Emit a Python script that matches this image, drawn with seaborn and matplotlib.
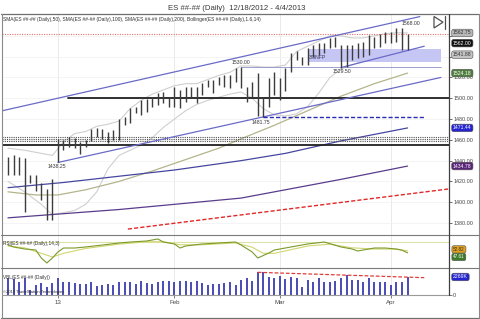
import matplotlib
matplotlib.use("Agg")
import matplotlib.pyplot as plt
import matplotlib.transforms as mtransforms
from matplotlib.lines import Line2D
from matplotlib.patches import Rectangle, Polygon
import numpy as np
import pandas as pd
import seaborn as sns

sns.set_style("white")
plt.rcParams['font.family'] = ['Liberation Sans', 'DejaVu Sans']

# ---------------- data ----------------
highs = [1443.5, 1445.5, 1443.5, 1442.5, 1426.0, 1426.0, 1418.5, 1412.5, 1422.5,
         1461.0, 1460.0, 1462.5, 1461.75, 1458.0, 1460.0, 1470.5, 1471.5, 1470.5, 1467.5, 1469.5,
         1480.0, 1482.0, 1490.5, 1491.5, 1498.25, 1499.25, 1501.25, 1505.0, 1506.0, 1501.25,
         1510.75, 1508.0, 1510.75, 1510.75, 1510.75, 1514.5, 1517.5, 1517.5, 1520.5, 1522.25,
         1522.25, 1529.0, 1530.0, 1510.75, 1515.5, 1524.25, 1501.0, 1519.5, 1525.25,
         1519.5, 1529.0, 1543.5, 1545.5, 1539.5, 1548.25, 1551.25, 1553.0, 1553.0, 1558.0,
         1558.75, 1551.25, 1551.25, 1551.25, 1553.0, 1554.0, 1560.75, 1558.75, 1561.75, 1563.75,
         1563.75, 1567.5, 1568.0, 1562.0]
lows = [1426.0, 1426.0, 1426.0, 1390.5, 1418.5, 1411.0, 1402.0, 1383.0, 1383.0,
        1438.25, 1450.0, 1453.0, 1452.0, 1446.25, 1453.0, 1459.0, 1462.5, 1461.0, 1457.0, 1460.0,
        1460.0, 1474.0, 1476.0, 1485.75, 1483.75, 1486.75, 1491.5, 1493.5, 1495.5, 1491.5,
        1491.5, 1490.5, 1496.25, 1500.25, 1495.5, 1503.0, 1510.75, 1505.0, 1512.75, 1510.75,
        1509.75, 1515.5, 1509.75, 1496.25, 1501.25, 1482.75, 1481.75, 1491.5, 1503.0,
        1498.25, 1507.0, 1525.25, 1536.75, 1532.0, 1532.0, 1539.5, 1541.5, 1543.5, 1548.25,
        1549.25, 1529.5, 1530.5, 1536.75, 1538.75, 1539.5, 1541.5, 1548.25, 1549.25, 1553.0,
        1553.0, 1554.0, 1546.25, 1546.25]
volumes_k = [2184, 2016, 1596, 2100, 630, 1260, 1470, 1050, 1470, 2100, 1596, 1596, 1470, 1344,
             1344, 1680, 1176, 1260, 1344, 1260, 1680, 1596, 1596, 1344, 1764, 1470, 1344, 1596,
             1764, 1764, 1680, 1764, 1764, 1680, 1764, 1470, 1260, 1344, 1344, 1470, 1596, 1260,
             1890, 2100, 1764, 2856, 2856, 2310, 2184, 2436, 2016, 2310, 2100, 1050, 1890, 1680,
             2100, 1596, 1596, 1764, 2100, 2520, 1890, 1890, 1596, 2100, 1596, 1596, 1596, 1260,
             1596, 1700, 2269]

sma50_idx = [0, 5, 9, 14, 20, 26, 32, 38, 42, 48, 54, 60, 66, 72]
sma50_val = [1410, 1407, 1407, 1412, 1420, 1430, 1441, 1452, 1461, 1474, 1488, 1502, 1514, 1524.18]
sma100_idx = [0, 10, 20, 30, 42, 50, 60, 72]
sma100_val = [1414, 1419, 1425, 1431, 1440, 1447, 1459, 1471.44]
sma200_idx = [0, 20, 42, 60, 72]
sma200_val = [1385, 1393, 1404, 1422, 1434.78]

bb_idx = [0, 3, 6, 8, 10, 12, 14, 16, 18, 20, 22, 24, 26, 28, 30, 32, 34, 36, 38, 40, 42, 44,
          46, 48, 50, 52, 54, 56, 58, 60, 62, 64, 66, 68, 70, 72]
bb_upper = [1452, 1450, 1447, 1445, 1458, 1466, 1468, 1473, 1475, 1478, 1490, 1498, 1504, 1508,
            1512, 1514, 1514, 1518, 1522, 1525, 1531, 1531, 1530, 1530, 1532, 1545, 1550, 1555,
            1560, 1560, 1558, 1558, 1560, 1562, 1563, 1562.75]
bb_lower = [1420, 1410, 1398, 1388, 1390, 1392, 1398, 1410, 1432, 1445, 1450, 1455, 1462, 1472,
            1480, 1488, 1494, 1498, 1501, 1504, 1506, 1500, 1490, 1484, 1483, 1485, 1492, 1505,
            1520, 1528, 1532, 1536, 1538, 1540, 1542, 1541.88]

rsi_idx = [0, 1, 3, 5, 6, 7, 8, 9, 10, 12, 14, 17, 20, 22, 25, 27, 28, 29, 30, 31, 32, 35, 38,
           41, 42, 44, 45, 47, 48, 51, 54, 57, 60, 62, 63, 66, 68, 70, 71, 72]
rsi_val = [65.6, 62.4, 59.1, 57.5, 44.4, 36.2, 44.4, 54.2, 60.7, 60.7, 62.4, 65.6, 68.9, 70.5,
           72.2, 75.5, 70.5, 68.9, 67.3, 60.7, 64.0, 67.3, 68.9, 70.5, 65.6, 54.2, 44.4, 52.5,
           57.5, 62.4, 67.3, 70.5, 62.4, 59.1, 55.8, 60.7, 60.7, 59.0, 57.0, 52.8]
sig_idx = [0, 3, 6, 8, 10, 14, 20, 25, 28, 31, 35, 41, 44, 46, 48, 54, 58, 62, 66, 70, 72]
sig_val = [64, 61, 52, 46, 52, 60, 67, 71, 71, 66, 66, 69, 62, 52, 52, 64, 67, 61, 59, 59, 56]

month_idx = [9, 30, 49, 69]
month_labels = ["13", "Feb", "Mar", "Apr"]
price_ticks = [1380, 1400, 1420, 1440, 1460, 1480, 1500, 1520, 1540, 1560]
hidden_tick_labels = [1540, 1560]   # covered by value tags in the reference

# trend / level lines (anchor points)
upper_channel = ([-1.0, 74.2], [1488.0, 1578.5])
lower_channel = ([9.0, 78.0], [1438.25, 1520.0])
march_trend = ([60.0, 75.0], [1529.5, 1550.0])
level_1530 = ([42.0, 78.0], [1530.0, 1530.0])
level_1481 = ([46.0, 75.0], [1481.75, 1481.75])
red_trend = ([21.6, 79.3], [1374.2, 1412.7])
nfp_box = (54.0, 78.0, 1534.5, 1547.5)
dotted_levels = [1462.7, 1460.8, 1458.8]
solid_level = 1455.0
black_level = (10.8, 1500.0)
red_level = 1562.0
vol_trend = ([45.0, 75.0], [2856, 2184])

# ---------------- figure ----------------
W, H = 480, 319
fig = plt.figure(figsize=(4.8, 3.19), dpi=100)
fx = lambda p: p / W
fy = lambda p: 1 - p / H
L, R = 2, 449
ax = fig.add_axes([fx(L), fy(235), fx(R) - fx(L), fy(14) - fy(235)])
ax_rsi = fig.add_axes([fx(L), fy(268), fx(R) - fx(L), fy(235) - fy(268)], sharex=ax)
ax_vol = fig.add_axes([fx(L), fy(295), fx(R) - fx(L), fy(268) - fy(295)], sharex=ax)

n = len(highs)
idx = np.arange(n)
ax.set_xlim(-1.08, 79.46)
ax.set_ylim(1368.5, 1581.0)
ax_rsi.set_ylim(28, 82)
ax_vol.set_ylim(0, 3400)

for a in (ax, ax_rsi, ax_vol):
    for s in a.spines.values():
        s.set_visible(False)
    a.set_facecolor('white')
    for m in month_idx:
        a.axvline(m, color='#e6e6e6', lw=0.6, zorder=0)

for p in price_ticks:
    ax.axhline(p, color='#f0f0f0', lw=0.5, zorder=0)

# bollinger
sns.lineplot(x=bb_idx, y=bb_upper, ax=ax, color='#cfcfcf', lw=0.8, zorder=1)
sns.lineplot(x=bb_idx, y=bb_lower, ax=ax, color='#cfcfcf', lw=0.8, zorder=1)
# SMAs
sns.lineplot(x=sma50_idx, y=sma50_val, ax=ax, color='#b4b48c', lw=0.9, zorder=2)
sns.lineplot(x=sma100_idx, y=sma100_val, ax=ax, color='#4646a0', lw=0.9, zorder=2)
sns.lineplot(x=sma200_idx, y=sma200_val, ax=ax, color='#5a3c8c', lw=0.9, zorder=2)

# box
x0, x1, y0, y1 = nfp_box
ax.add_patch(Rectangle((x0, y0), x1 - x0, y1 - y0, facecolor='#c6c6f4', edgecolor='none', zorder=1))

# levels
for lv in dotted_levels:
    ax.axhline(lv, color='#505050', lw=0.8, ls=(0, (1, 1)), zorder=2)
ax.axhline(solid_level, color='#202020', lw=1.3, zorder=2)
ax.plot([black_level[0], 79.46], [black_level[1]] * 2, color='#202020', lw=1.3, zorder=2)
ax.axhline(red_level, color='#e07070', lw=0.8, ls=(0, (1, 1.2)), zorder=2)

# trendlines
ax.plot(*upper_channel, color='#6a6ac8', lw=0.9, zorder=3)
ax.plot(*lower_channel, color='#6a6ac8', lw=0.9, zorder=3)
ax.plot(*march_trend, color='#6a6ac8', lw=0.9, zorder=3)
ax.plot(*level_1530, color='#9090c8', lw=0.6, zorder=3)
ax.plot(*level_1481, color='#2a2ab4', lw=1.0, ls=(0, (3, 1.5)), zorder=3)
ax.plot(*red_trend, color='#e02828', lw=1.0, ls=(0, (3, 1.5)), zorder=3)

# price bars
ax.vlines(idx, lows, highs, colors='#3c3c3c', lw=1.0, zorder=4)

# annotations
fs_lab = 3.7
ax.text(42, 1531.5, "1530.00", ha='center', va='bottom', fontsize=fs_lab, color='#333333')
ax.text(45.5, 1479.5, "1481.75", ha='center', va='top', fontsize=fs_lab, color='#333333')
ax.text(8.8, 1436.5, "1438.25", ha='center', va='top', fontsize=fs_lab, color='#333333')
ax.text(60.2, 1528.0, "1529.50", ha='center', va='top', fontsize=fs_lab, color='#333333')
ax.text(71.0, 1569.0, "1568.00", ha='left', va='bottom', fontsize=fs_lab, color='#333333')
ax.text(54.2, 1539.6, "3/8NFP", ha='left', va='center', fontsize=fs_lab, color='#333355')

# right axis
ax.yaxis.tick_right()
ax.set_yticks(price_ticks)
ax.set_yticklabels(["" if p in hidden_tick_labels else f"{p:.2f}" for p in price_ticks])
ax.tick_params(axis='y', right=True, length=2, width=0.6, color='#555555', pad=1,
               labelsize=3.9, labelcolor='#444444', direction='out')
ax.tick_params(axis='x', bottom=False, labelbottom=False)
ax.set_xlabel(''); ax.set_ylabel('')

# tags
def tag(a, y, text, fc, tc, fs=3.7):
    tr = mtransforms.blended_transform_factory(a.transAxes, a.transData)
    a.text(1.009, y, text, transform=tr, ha='left', va='center',
           fontsize=fs, color=tc, zorder=10, clip_on=False,
           bbox=dict(boxstyle='round,pad=0.25,rounding_size=0.4', fc=fc, ec='#505050', lw=0.4))

tag(ax, 1562.75, "1562.75", '#b8b8b8', '#303030')
tag(ax, 1553.0, "1562.00", '#101010', 'white')
tag(ax, 1541.88, "1541.88", '#c4c4c4', '#303030')
tag(ax, 1524.18, "1524.18", '#4e7e3e', 'white')
tag(ax, 1471.44, "1471.44", '#2424d0', 'white')
tag(ax, 1434.78, "1434.78", '#5a2478', 'white')

# RSI
ax_rsi.axhline(70, color='#dde3a8', lw=0.8)
sns.lineplot(x=sig_idx, y=sig_val, ax=ax_rsi, color='#d2d670', lw=0.8)
sns.lineplot(x=rsi_idx, y=rsi_val, ax=ax_rsi, color='#7c9a2c', lw=0.8)
ax_rsi.set_yticks([])
ax_rsi.tick_params(axis='x', bottom=False, labelbottom=False)
ax_rsi.set_xlabel(''); ax_rsi.set_ylabel('')
tag(ax_rsi, 58.5, "52.82", '#e0a020', '#303030', fs=3.3)
tag(ax_rsi, 46.0, "47.61", '#3c7a28', 'white', fs=3.3)

# volume
ax_vol.vlines(idx, 0, volumes_k, colors='#3c3cb0', lw=1.3)
ax_vol.plot(*vol_trend, color='#e03c3c', lw=0.9, ls=(0, (3, 1.5)))
ax_vol.yaxis.tick_right()
ax_vol.set_yticks([0])
ax_vol.set_yticklabels(["0"])
ax_vol.set_xticks(month_idx)
ax_vol.set_xticklabels(month_labels)
ax_vol.tick_params(axis='x', bottom=True, length=2, width=0.6, color='#666666', pad=1.5,
                   labelsize=4.4, labelcolor='#444444', direction='out')
ax_vol.tick_params(axis='y', right=True, length=2, width=0.6, color='#666666', pad=1,
                   labelsize=3.9, labelcolor='#444444')
ax_vol.set_xlabel(''); ax_vol.set_ylabel('')
tag(ax_vol, 2269, "2269K", '#2424d0', 'white')

# frame and separators
def fline(xs, ys, c='#6a6a6a', lw=0.8):
    fig.add_artist(Line2D([fx(v) for v in xs], [fy(v) for v in ys], color=c, lw=lw))

fline([1, 479], [13.5, 13.5], '#707070', 0.9)
fline([1, 479], [318, 318], '#707070', 0.9)
fline([1.5, 1.5], [13.5, 318], '#8a8a8a', 0.8)
fline([478.5, 478.5], [13.5, 318], '#8a8a8a', 0.8)
fline([1, 479], [235, 235], '#7a7a7a', 0.8)
fline([1, 479], [267.5, 267.5], '#7a7a7a', 0.8)
fline([2, 449], [295, 295], '#9a9a9a', 0.8)
fline([449, 449], [13.5, 295], '#404040', 0.9)

# end-of-data icon
fig.add_artist(Polygon([(fx(434), fy(16.5)), (fx(434), fy(28)), (fx(443), fy(22.2))],
                       closed=True, fill=False, ec='#505050', lw=0.9))
fline([445, 445], [16, 28.5], '#505050', 0.9)

# texts
fig.text(fx(237), fy(8), "ES ##-## (Daily)  12/18/2012 - 4/4/2013", ha='center', va='center',
         fontsize=5.6, color='#383838')
fig.text(fx(3), fy(19.5), "SMA(ES ##-## (Daily),50), SMA(ES ##-## (Daily),100), SMA(ES ##-## (Daily),200), "
         "Bollinger(ES ##-## (Daily),1.6,14)", ha='left', va='center', fontsize=3.5, color='#303030')
fig.text(fx(3), fy(244), "RSI(ES ##-## (Daily),14,3)", ha='left', va='center', fontsize=3.4, color='#303030')
fig.text(fx(3), fy(277), "VBL(ES ##-## (Daily))", ha='left', va='center', fontsize=3.4, color='#303030')
fig.text(fx(3), fy(291.5), "\u00a92013 TradeStation Technologies", ha='left', va='center',
         fontsize=3.0, color='#303030')

fig.savefig("out.png", dpi=100, facecolor='white')
